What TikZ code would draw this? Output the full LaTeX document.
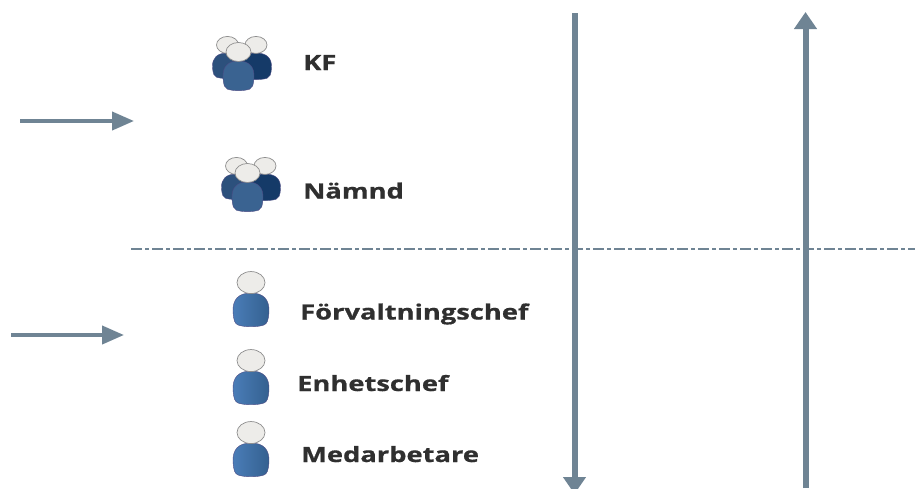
\documentclass[tikz,border=0pt]{standalone}
\usepackage{fontspec}
\usepackage{graphicx}
\setmainfont{Open Sans}[BoldFeatures={FakeBold=0.6}]
\usetikzlibrary{arrows.meta}
\definecolor{slate}{HTML}{6F8494}
\definecolor{headfill}{HTML}{EDECE9}
\definecolor{headline}{HTML}{8E8E8E}
\definecolor{labelc}{HTML}{2F2F2F}
\definecolor{blueA}{HTML}{4A7DB8}
\definecolor{blueB}{HTML}{34608F}
\definecolor{groupF}{HTML}{3A6391}
\definecolor{groupL}{HTML}{2C507C}
\definecolor{groupR}{HTML}{153A68}
\newcommand{\widelabel}[1]{\scalebox{1.30}[1]{\bfseries\fontsize{21}{23}\selectfont #1}}
\tikzset{
  x=1pt,y=-1pt,
  lab/.style={text=labelc,anchor=base west,inner sep=0pt},
  headshape/.style={fill=headfill,draw=headline,line width=.7pt},
  bodyshape/.style={draw=black!45!blue!40!gray,line width=.4pt},
  thinflow/.style={draw=slate,line width=4pt,-{Triangle[length=22pt,width=18pt]}},
  thickflow/.style={draw=slate,line width=6pt,-{Triangle[length=17pt,width=22pt]}},
  divider/.style={draw=slate,line width=2.6pt,dash pattern=on 10.5pt off 3.5pt on 3.5pt off 3.5pt},
  pics/person/.style n args={5}{code={
    \path[bodyshape,#5] (-0.72*#3,0.97*#4) .. controls (-0.9*#3,0.92*#4) and (-0.97*#3,0.85*#4) .. (-#3,0.55*#4)
      .. controls (-1.02*#3,0.2*#4) and (-0.7*#3,0) .. (0,0)
      .. controls (0.7*#3,0) and (1.02*#3,0.2*#4) .. (#3,0.55*#4)
      .. controls (0.97*#3,0.85*#4) and (0.9*#3,0.92*#4) .. (0.72*#3,0.97*#4)
      .. controls (0.35*#3,1.04*#4) and (-0.35*#3,1.04*#4) .. (-0.72*#3,0.97*#4) -- cycle;
    \path[headshape] (0,-0.95*#2) ellipse [x radius=#1,y radius=#2];
  }},
  pics/crowd/.style={code={
    \pic at (-12.5,-8) {person={11}{8.5}{15}{25}{fill=groupL}};
    \pic at (16,-8) {person={11}{8.5}{15.5}{26}{fill=groupR}};
    \pic at (-1.5,0) {person={12.5}{9.5}{15.5}{29}{fill=groupF}};
  }},
  pics/single/.style={code={
    \pic {person={14}{11}{18}{33}{left color=blueA,right color=blueB}};
  }}
}
\begin{document}
\begin{tikzpicture}
\useasboundingbox (0,0) rectangle (915,488);
\fill[white] (0,0) rectangle (915,488);
\coordinate (dA) at (131,249);
\coordinate (dB) at (915,249);
\coordinate (a1s) at (20,121);
\coordinate (a1e) at (134,121);
\coordinate (a2s) at (11,335);
\coordinate (a2e) at (124,335);
\coordinate (ds) at (574.5,13);
\coordinate (de) at (574.5,494);
\coordinate (us) at (805.5,488);
\coordinate (ue) at (805.5,12);
\draw[divider] (dA) -- (dB);
\draw[thinflow] (a1s) -- (a1e);
\draw[thinflow] (a2s) -- (a2e);
\draw[thickflow] (ds) -- (de);
\draw[thickflow] (us) -- (ue);
\pic at (240,61) {crowd};
\pic at (249,182) {crowd};
\pic at (251,293) {single};
\pic at (251,371) {single};
\pic at (251,443) {single};
\node[lab] (kf) at (303,70) {\widelabel{KF}};
\node[lab] (namnd) at (303,198.5) {\widelabel{Nämnd}};
\node[lab] (forv) at (300,319.5) {\widelabel{Förvaltningschef}};
\node[lab] (enh) at (297,391) {\widelabel{Enhetschef}};
\node[lab] (med) at (301,462) {\widelabel{Medarbetare}};
\end{tikzpicture}
\end{document}
